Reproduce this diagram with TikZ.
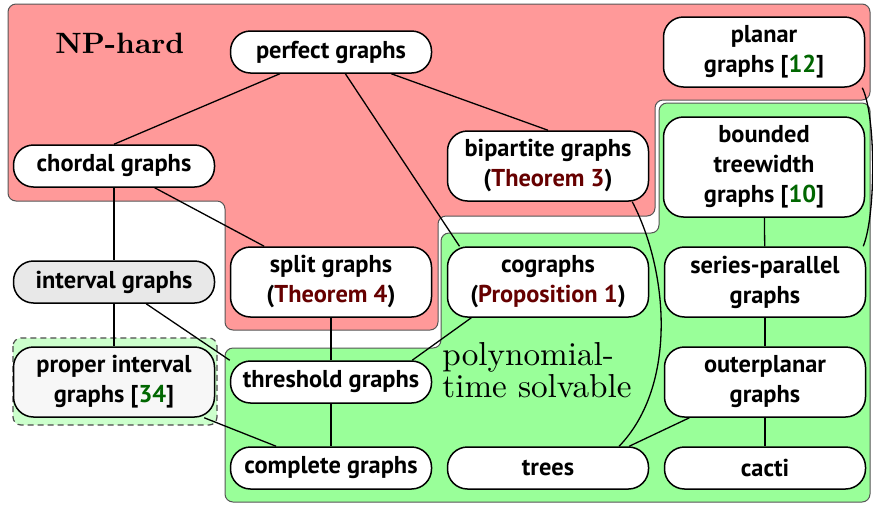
\documentclass[tikz,border=0pt]{standalone}
\usepackage{fontspec}
\newfontfamily\nodefont{PT Sans}
\newfontfamily\polyfont{lmroman10-regular.otf}
\newfontfamily\npfont{lmroman10-bold.otf}
\definecolor{npred}{HTML}{FF9999}
\definecolor{polygreen}{HTML}{99FF99}
\definecolor{lightgreen}{HTML}{CCFFCC}
\definecolor{thmred}{HTML}{660000}
\definecolor{citegreen}{HTML}{006600}
\definecolor{regionline}{HTML}{555555}
\begin{document}
\begin{tikzpicture}[x=0.5pt,y=-0.5pt,
 gnode/.style={draw=black, line width=0.75pt, fill=white, rounded corners=10pt,
   minimum width=100.5pt, minimum height=21pt, align=center, inner sep=2pt,
   font=\nodefont\bfseries\fontsize{12.2}{15}\selectfont},
 two/.style={minimum height=35pt},
 three/.style={minimum height=50pt},
 link/.style={line width=0.65pt},
 region/.style={draw=regionline, line width=0.5pt, rounded corners=4pt}]
\useasboundingbox (0,0) rectangle (873,505);
% regions
\draw[region, fill=npred] (8,4) -- (870,4) -- (870,100) -- (655,100) -- (655,216) -- (438,216) -- (438,330) -- (225,330) -- (225,201) -- (8,201) -- cycle;
\draw[region, fill=polygreen] (659,103) -- (870,103) -- (870,502) -- (225,502) -- (225,348) -- (441,348) -- (441,233) -- (659,233) -- cycle;
\draw[draw=black!70, fill=lightgreen, line width=0.6pt, rounded corners=4pt, dash pattern=on 3pt off 2pt] (13,338) rectangle (217,425);
% labels
\node[anchor=base west, inner sep=0, font=\npfont\fontsize{14.7}{17}\selectfont] (nphard) at (55,53) {NP-hard};
\node[anchor=base west, inner sep=0, align=left, font=\polyfont\fontsize{16.6}{14.5}\selectfont] (poly) at (442,397) {polynomial-\\time solvable};
% nodes
\node[gnode] (perfect) at (331,52) {perfect graphs};
\node[gnode] (chordal) at (114,166) {chordal graphs};
\node[gnode,two] (bipartite) at (548,166) {bipartite graphs\\(\textcolor{thmred}{Theorem 3})};
\node[gnode,two] (planar) at (764,52) {planar\\graphs [\textcolor{citegreen}{12}]};
\node[gnode,three] (bounded) at (764,167) {bounded\\treewidth\\graphs [\textcolor{citegreen}{10}]};
\node[gnode, fill=black!9] (interval) at (114,282) {interval graphs};
\node[gnode,two] (split) at (331,282) {split graphs\\(\textcolor{thmred}{Theorem 4})};
\node[gnode,two] (cographs) at (548,282) {cographs\\(\textcolor{thmred}{Proposition 1})};
\node[gnode,two] (sp) at (765,282) {series-parallel\\graphs};
\node[gnode,two, fill=black!3] (proper) at (114,382) {proper interval\\graphs [\textcolor{citegreen}{34}]};
\node[gnode] (threshold) at (331,382) {threshold graphs};
\node[gnode,two] (outer) at (765,382) {outerplanar\\graphs};
\node[gnode] (complete) at (331,468) {complete graphs};
\node[gnode] (trees) at (548,468) {trees};
\node[gnode] (cacti) at (765,468) {cacti};
% edges
\draw[link] (perfect) -- (chordal.north);
\draw[link] (perfect) -- (bipartite.north);
\draw[link] (perfect) -- (cographs.158);
\draw[link] (chordal) -- (interval);
\draw[link] (chordal) -- (split);
\draw[link] (interval) -- (proper);
\draw[link] (interval) -- (threshold.north west);
\draw[link] (proper) -- (complete);
\draw[link] (split) -- (threshold);
\draw[link] (threshold) -- (complete);
\draw[link] (cographs.-155) -- (threshold.15);
\draw[link] (bipartite.-23) .. controls (668,270) and (678,385) .. (trees.17);
\draw[link] (planar.-20) .. controls (876,115) and (876,215) .. (sp.20);
\draw[link] (bounded) -- (sp);
\draw[link] (sp) -- (outer);
\draw[link] (outer) -- (cacti);
\draw[link] (outer) -- (trees.15);
\end{tikzpicture}
\end{document}
